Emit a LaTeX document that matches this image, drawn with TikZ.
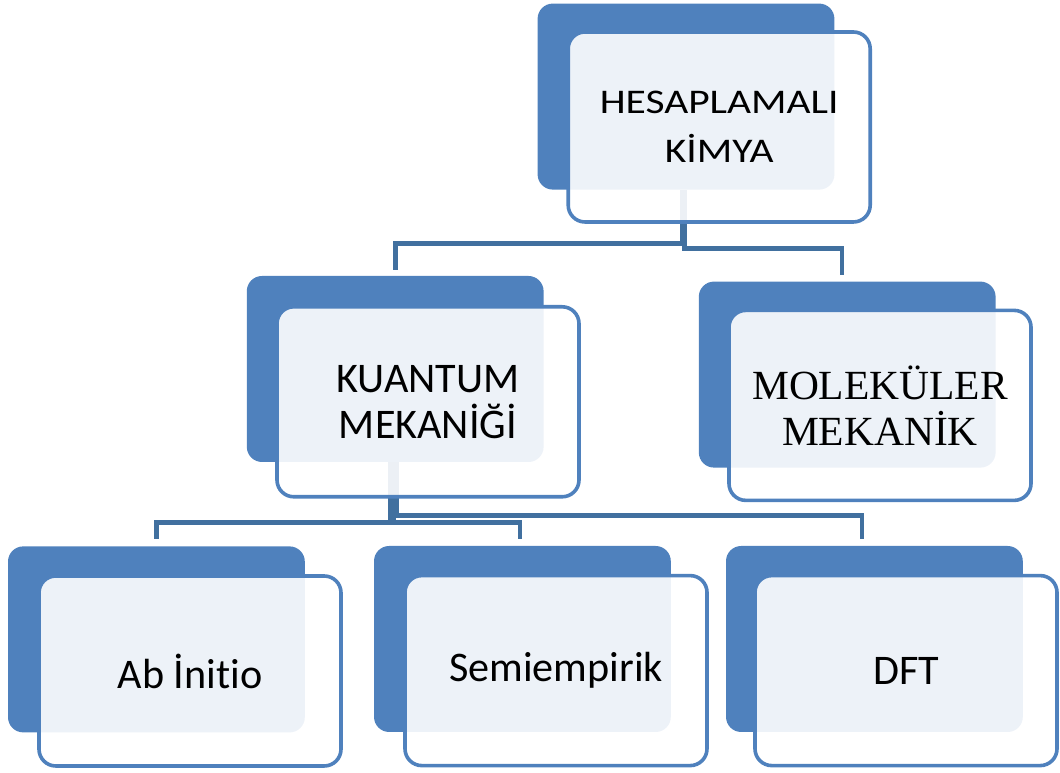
\documentclass[tikz,border=0pt]{standalone}
\usepackage{fontspec}
\setmainfont[Ligatures=NoCommon]{Carlito}
\newfontfamily\widefont[FakeStretch=1.2,Ligatures=NoCommon]{Carlito}
\newfontfamily\serifbox{Liberation Serif}
\definecolor{boxblue}{HTML}{4F81BD}
\definecolor{linkblue}{HTML}{41709F}
\begin{document}
\begin{tikzpicture}
		[backbox/.style={rectangle,rounded corners=0.38cm,fill=boxblue,minimum width=7.42cm,minimum height=4.65cm,inner sep=0pt},
		 frontbox/.style={rectangle,rounded corners=0.42cm,draw=boxblue,line width=0.09cm,fill=white,fill opacity=0.9,text opacity=1,
		 	minimum width=7.55cm,minimum height=4.75cm,align=center,inner sep=0pt,font=\fontsize{30}{32.5}\selectfont},
		 link/.style={draw=linkblue,line width=0.12cm}]
		\useasboundingbox (0,0) rectangle (26.5,19.325);
		\node[backbox,name=topB] at (17.15,16.91) {};
		\node[backbox,name=kuantumB] at (9.88,10.10) {};
		\node[backbox,name=molekB] at (21.18,9.96) {};
		\node[backbox,name=abB] at (3.91,3.34) {};
		\node[backbox,name=semiB] at (13.06,3.35) {};
		\node[backbox,name=dftB] at (21.86,3.35) {};
		\draw[link]([xshift=-0.1cm]topB.south)--++(0,-1.34)-|([yshift=0.15cm]kuantumB.north);
		\draw[link]([xshift=-0.03cm]topB.south)--++(0,-1.46)-|([xshift=-0.13cm,yshift=0.17cm]molekB.north);
		\draw[link]([xshift=-0.13cm]kuantumB.south)--++(0,-1.5)-|([yshift=0.17cm]abB.north);
		\draw[link]([xshift=-0.03cm]kuantumB.south)--++(0,-1.5)-|([xshift=-0.06cm,yshift=0.17cm]semiB.north);
		\draw[link]([xshift=0.03cm]kuantumB.south)--++(0,-1.33)-|([xshift=-0.31cm,yshift=0.17cm]dftB.north);
		\node[frontbox,name=topF,font=\widefont\fontsize{24.6}{34.9}\selectfont] at (17.98,16.15) {HESAPLAMALI\\KİMYA};
		\node[frontbox,name=kuantumF] at (10.70,9.28) {KUANTUM\\MEKANİĞİ};
		\node[frontbox,name=molekF,font=\serifbox\fontsize{29.5}{32.5}\selectfont] at (22.00,9.19) {MOLEKÜLER\\MEKANİK};
		\node[frontbox,name=abF] at (4.75,2.55) {Ab İnitio};
		\node[frontbox,name=semiF] at (13.90,2.56) {Semiempirik};
		\node[frontbox,name=dftF] at (22.65,2.56) {DFT};
	\end{tikzpicture}
\end{document}
